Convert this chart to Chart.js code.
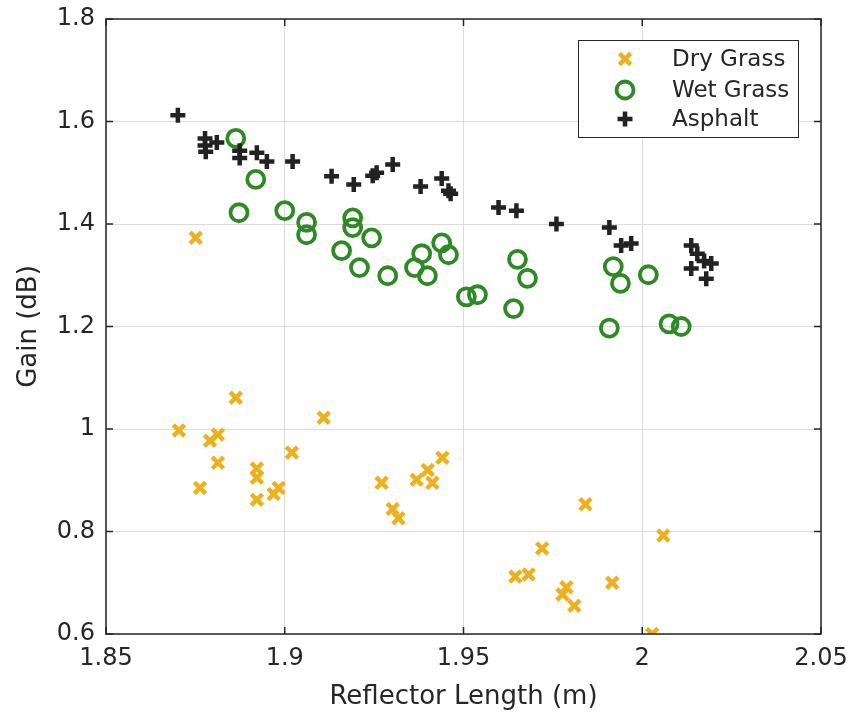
<!DOCTYPE html>
<html>
<head>
<meta charset="utf-8">
<script src="https://cdn.jsdelivr.net/npm/chart.js@4.4.1/dist/chart.umd.min.js"></script>
<style>
  html, body { margin: 0; padding: 0; background: #fff; }
  #chart { display: block; }
</style>
</head>
<body>
<canvas id="chart" width="851" height="719"></canvas>
<script>
// valores
const dryX = [1.8751, 1.8863, 1.9109, 1.8704, 1.8813, 1.8791, 1.8813, 1.9020, 1.8922, 1.8922, 1.8763, 1.8983, 1.8969, 1.8922,
  1.9271, 1.9369, 1.9400, 1.9413, 1.9441, 1.9302, 1.9318, 1.9841, 2.0059, 1.9720, 1.9645, 1.9682, 1.9788, 1.9777, 1.9810, 1.9916, 2.0028]
const dryY = [1.373, 1.061, 1.022, 0.997, 0.989, 0.977, 0.934, 0.954, 0.923, 0.905, 0.885, 0.885, 0.873, 0.862,
  0.895, 0.901, 0.920, 0.895, 0.944, 0.844, 0.826, 0.853, 0.792, 0.767, 0.712, 0.716, 0.691, 0.677, 0.655, 0.700, 0.600]

const wetX = [1.8863, 1.8919, 1.8872, 1.9000, 1.9061, 1.9061, 1.9190, 1.9190, 1.9243, 1.9159, 1.9209, 1.9288, 1.9383, 1.9363,
  1.9399, 1.9439, 1.9458, 1.9508, 1.9539, 1.9651, 1.9679, 1.9640, 1.9919, 1.9939, 1.9908, 2.0017, 2.0075, 2.0109]
const wetY = [1.567, 1.487, 1.422, 1.426, 1.403, 1.379, 1.412, 1.393, 1.373, 1.348, 1.315, 1.299, 1.342, 1.315,
  1.299, 1.363, 1.340, 1.258, 1.262, 1.331, 1.294, 1.235, 1.317, 1.284, 1.197, 1.301, 1.205, 1.200]

const asphaltX = [1.8701, 1.8777, 1.8777, 1.8779, 1.8810, 1.8874, 1.8874, 1.8922, 1.8950, 1.9022, 1.9131, 1.9193, 1.9246, 1.9257,
  1.9302, 1.9380, 1.9439, 1.9458, 1.9464, 1.9598, 1.9648, 1.9760, 1.9908, 1.9941, 1.9969, 2.0137, 2.0154, 2.0173, 2.0193, 2.0137, 2.0179]
const asphaltY = [1.612, 1.567, 1.553, 1.541, 1.559, 1.543, 1.529, 1.539, 1.522, 1.522, 1.493, 1.477, 1.494, 1.500,
  1.516, 1.473, 1.489, 1.465, 1.459, 1.432, 1.426, 1.400, 1.393, 1.358, 1.362, 1.358, 1.342, 1.328, 1.323, 1.313, 1.293]

const xTicks = [1.85, 1.9, 1.95, 2, 2.05]
const yTicks = [0.6, 0.8, 1, 1.2, 1.4, 1.6, 1.8]
const seriesNames = ["Dry Grass", "Wet Grass", "Asphalt"]

const toPoints = (xs, ys) => xs.map((x, i) => ({ x: x, y: ys[i] }))
const fmt = (v) => String(Number(v.toFixed(2)))

const FONT = "'DejaVu Sans', sans-serif"

/* marco completo, ticks hacia adentro (estilo matlab) y leyenda */
const boxPlugin = {
  id: 'box',
  afterDraw(chart) {
    const ctx = chart.ctx
    const a = chart.chartArea
    const sx = chart.scales.x
    const sy = chart.scales.y
    ctx.save()
    ctx.strokeStyle = '#262626'
    ctx.lineWidth = 1.5
    ctx.beginPath()
    xTicks.forEach((v) => {
      const px = sx.getPixelForValue(v)
      ctx.moveTo(px, a.bottom); ctx.lineTo(px, a.bottom - 7)
      ctx.moveTo(px, a.top); ctx.lineTo(px, a.top + 7)
    })
    yTicks.forEach((v) => {
      const py = sy.getPixelForValue(v)
      ctx.moveTo(a.left, py); ctx.lineTo(a.left + 7, py)
      ctx.moveTo(a.right, py); ctx.lineTo(a.right - 7, py)
    })
    ctx.stroke()
    ctx.strokeRect(a.left, a.top, a.right - a.left, a.bottom - a.top)

    // leyenda
    const lx = 578, ly = 40, lw = 220, lh = 97
    ctx.fillStyle = '#fff'
    ctx.fillRect(lx, ly, lw, lh)
    ctx.lineWidth = 1
    ctx.strokeRect(lx + 0.5, ly + 0.5, lw, lh)
    const rows = [59, 90, 119]
    chart.data.datasets.forEach((ds, i) => {
      ctx.strokeStyle = ds.borderColor
      ctx.fillStyle = ds.backgroundColor
      ctx.lineWidth = ds.borderWidth
      Chart.helpers.drawPoint(ctx, {
        pointStyle: ds.pointStyle,
        radius: ds.pointRadius,
        borderWidth: ds.borderWidth,
        rotation: 0
      }, 625, rows[i])
      ctx.fillStyle = '#262626'
      ctx.font = '23px ' + FONT
      ctx.textBaseline = 'middle'
      ctx.textAlign = 'left'
      ctx.fillText(ds.label, 672, rows[i] + 1)
    })
    ctx.restore()
  }
}

const colores = ['#EDB120', '#2F8A25', '#222222']

const config = {
  type: 'scatter',
  data: {
    datasets: [
      {
        label: seriesNames[0],
        data: toPoints(dryX, dryY),
        pointStyle: 'crossRot',
        pointRadius: 8,
        borderWidth: 4.5,
        borderColor: colores[0],
        backgroundColor: colores[0],
        order: 3
      },
      {
        label: seriesNames[1],
        data: toPoints(wetX, wetY),
        pointStyle: 'circle',
        pointRadius: 8.5,
        borderWidth: 3.8,
        borderColor: colores[1],
        backgroundColor: 'rgba(0,0,0,0)',
        order: 2
      },
      {
        label: seriesNames[2],
        data: toPoints(asphaltX, asphaltY),
        pointStyle: 'cross',
        pointRadius: 7.5,
        borderWidth: 4.5,
        borderColor: colores[2],
        backgroundColor: colores[2],
        order: 1
      }
    ]
  },
  options: {
    responsive: false,
    animation: false,
    layout: { padding: { top: 19, right: 30, left: 0, bottom: 0 } },
    plugins: {
      legend: { display: false },
      tooltip: { enabled: false }
    },
    scales: {
      x: {
        type: 'linear',
        min: 1.85,
        max: 2.05,
        afterBuildTicks: (scale) => { scale.ticks = xTicks.map((v) => ({ value: v })) },
        afterFit: (scale) => {
          scale.height = 85
          scale.paddingLeft = 0
          scale.paddingRight = 0
        },
        grid: { color: '#dcdcdc', lineWidth: 1, drawTicks: false },
        border: { display: false },
        ticks: {
          color: '#262626',
          font: { family: FONT, size: 24 },
          padding: 10,
          maxRotation: 0,
          autoSkip: false,
          callback: (v) => fmt(v)
        },
        title: {
          display: true,
          text: 'Reflector Length (m)',
          color: '#262626',
          font: { family: FONT, size: 26 },
          padding: { top: 0, bottom: 6 }
        }
      },
      y: {
        type: 'linear',
        min: 0.6,
        max: 1.8,
        afterBuildTicks: (scale) => { scale.ticks = yTicks.map((v) => ({ value: v })) },
        afterFit: (scale) => {
          scale.width = 106
          scale.paddingTop = 0
          scale.paddingBottom = 0
        },
        grid: { color: '#dcdcdc', lineWidth: 1, drawTicks: false },
        border: { display: false },
        ticks: {
          color: '#262626',
          font: { family: FONT, size: 24 },
          padding: 11,
          autoSkip: false,
          callback: (v) => fmt(v)
        },
        title: {
          display: true,
          text: 'Gain (dB)',
          color: '#262626',
          font: { family: FONT, size: 26 },
          padding: { top: 14, bottom: 0 }
        }
      }
    }
  },
  plugins: [boxPlugin]
}

new Chart(document.getElementById('chart'), config)
</script>
</body>
</html>
